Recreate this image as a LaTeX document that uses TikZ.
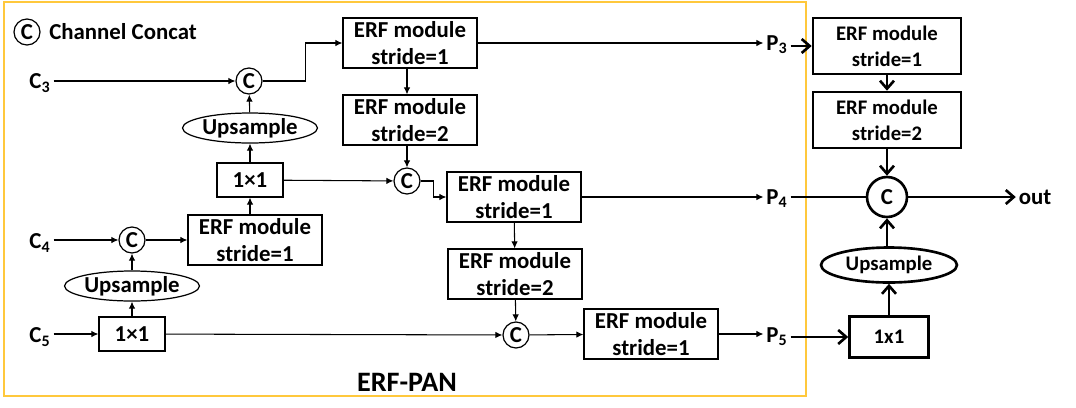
\documentclass[tikz,border=0pt]{standalone}
\usepackage{fontspec}
\setmainfont{Carlito}
\usepackage{tikz}
\usetikzlibrary{arrows.meta,positioning,shapes.geometric}
\definecolor{panframe}{RGB}{255,200,60}

\begin{document}
\begin{tikzpicture}[
  x=0.02cm, y=-0.02cm,
  every node/.style={font=\fontsize{13pt}{15.5pt}\selectfont\bfseries},
  erf/.style={draw, line width=0.7pt, minimum width=2.68cm, minimum height=1.0cm, align=center, inner sep=0pt},
  conv/.style={draw, line width=0.7pt, minimum width=1.32cm, minimum height=0.68cm, inner sep=0pt},
  upsmp/.style={draw, ellipse, line width=0.7pt, minimum width=2.68cm, minimum height=0.6cm, inner sep=0pt},
  cat/.style={draw, circle, line width=0.7pt, minimum size=0.52cm, inner sep=0pt},
  lab/.style={inner sep=1.5pt},
  arr/.style={-{Latex[length=1.4mm,width=1.3mm]}, line width=0.6pt},
  % right-hand fusion head
  erfR/.style={draw, line width=1.5pt, minimum width=2.96cm, minimum height=1.12cm, align=center, inner sep=0pt, font=\fontsize{11.8pt}{15pt}\selectfont\bfseries},
  convR/.style={draw, line width=1.5pt, minimum width=1.58cm, minimum height=0.82cm, inner sep=0pt, font=\fontsize{11.8pt}{14pt}\selectfont\bfseries},
  upsmpR/.style={draw, ellipse, line width=1.5pt, minimum width=2.72cm, minimum height=0.7cm, inner sep=0pt, font=\fontsize{11.8pt}{14pt}\selectfont\bfseries},
  catR/.style={draw, circle, line width=1.5pt, minimum size=0.8cm, inner sep=0pt},
  arrR/.style={-{Straight Barb[length=1.6mm,width=2.8mm]}, line width=1.5pt}
]
\useasboundingbox (0,0) rectangle (1076,407);
\draw[panframe, line width=1pt] (4,2) rectangle (806,396);

\node[cat] (legc) at (27,32) {C};
\node[right=0.05cm of legc] (legt) {Channel Concat};

\node[lab] (c3) at (40,83) {C\textsubscript{3}};
\node[lab] (c4) at (40,243) {C\textsubscript{4}};
\node[lab] (c5) at (40,337) {C\textsubscript{5}};

\node[cat] (cat3) at (249,81) {C};
\node[upsmp] (up4) at (250,128) {Upsample};
\node[conv] (conv4) at (250,180) {1×1};
\node[erf] (erf4) at (255,240) {ERF module\\stride=1};
\node[cat] (cat4) at (132,240) {C};
\node[upsmp] (up5) at (132,286) {Upsample};
\node[conv] (conv5) at (132,334) {1×1};

\node[erf] (erfa) at (410,43) {ERF module\\stride=1};
\node[erf] (erfb) at (410,120) {ERF module\\stride=2};
\node[cat] (catb) at (407,181) {C};
\node[erf] (erfc) at (514,197) {ERF module\\stride=1};
\node[erf] (erfd) at (515,274) {ERF module\\stride=2};
\node[cat] (catd) at (516,335) {C};
\node[erf] (erfe) at (651,334) {ERF module\\stride=1};

\node[lab] (p3) at (777,45) {P\textsubscript{3}};
\node[lab] (p4) at (777,199) {P\textsubscript{4}};
\node[lab] (p5) at (777,337) {P\textsubscript{5}};

\node[font=\fontsize{16pt}{18pt}\selectfont\bfseries] (pan) at (407,382) {ERF-PAN};

\draw[arr] (c3.east |- cat3) -- (cat3);
\draw[arr] (cat3.east) -- ++(43,0) |- (erfa.west);
\draw[arr] (up4) -- (cat3);
\draw[arr] (conv4) -- (up4);
\draw[arr] (erf4.north -| conv4) -- (conv4);
\draw[arr] (conv4) -- (catb);
\draw[arr] (c4.east |- cat4) -- (cat4);
\draw[arr] (cat4) -- (erf4);
\draw[arr] (up5) -- (cat4);
\draw[arr] (conv5) -- (up5);
\draw[arr] (c5.east |- conv5) -- (conv5);
\draw[arr] (conv5) -- (catd);
\draw[arr] (erfa) -- (erfa -| p3.west);
\draw[arr] (erfa.south -| catb) -- (erfb.north -| catb);
\draw[arr] (erfb.south -| catb) -- (catb);
\draw[arr] (catb.east) -- ++(13,0) |- (erfc.west);
\draw[arr] (erfc) -- (erfc -| p4.west);
\draw[arr] (erfc) -- (erfd);
\draw[arr] (erfd) -- (catd);
\draw[arr] (catd) -- (erfe);
\draw[arr] (erfe) -- (erfe -| p5.west);

\node[erfR] (r1) at (887,46) {ERF module\\stride=1};
\node[erfR] (r2) at (887,120) {ERF module\\stride=2};
\node[catR] (rcat) at (887,197) {C};
\node[upsmpR] (rup) at (889,265) {Upsample};
\node[convR] (rconv) at (889,337) {1x1};
\node[lab] (out) at (1035,197) {out};

\draw[arrR] (p3.east |- r1) -- (r1);
\draw[arrR] (r1) -- (r2);
\draw[arrR] (r2) -- (rcat);
\draw[line width=1.5pt] (p4.east |- rcat) -- (rcat);
\draw[arrR] (rcat) -- (out);
\draw[arrR] (rup.north -| rcat) -- (rcat);
\draw[arrR] (rconv) -- (rup);
\draw[arrR] (p5.east |- rconv) -- (rconv);
\end{tikzpicture}
\end{document}
